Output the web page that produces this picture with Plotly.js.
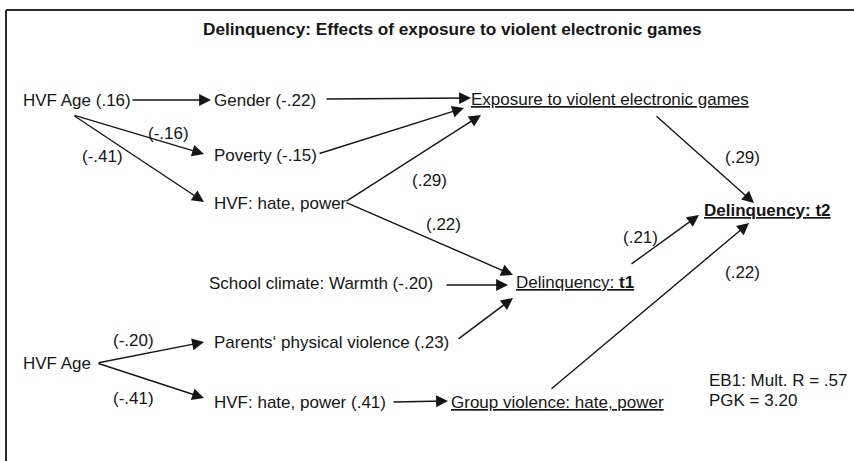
<!DOCTYPE html>
<html>
<head>
<meta charset="utf-8">
<script src="https://cdn.plot.ly/plotly-3.0.1.min.js"></script>
<style>html,body{margin:0;padding:0;background:#fff;}#chart{width:854px;height:461px;}</style>
</head>
<body>
<div id="chart"></div>
<script>
// ---- data ----
var chartTitle = "Delinquency: Effects of exposure to violent electronic games";
var nodeLabels = [
  "HVF Age (.16)",
  "Gender (-.22)",
  "Poverty (-.15)",
  "HVF: hate, power",
  "Exposure to violent electronic games",
  "School climate: Warmth (-.20)",
  "Delinquency: <b>t1</b>",
  "<b>Delinquency: t2</b>",
  "HVF Age",
  "Parents\u2018 physical violence (.23)",
  "HVF: hate, power (.41)",
  "Group violence: hate, power"
];
var nodeUnderlined = [false,false,false,false,true,false,true,true,false,false,false,true];
var edgeFrom  = [0,0,0,1,2,3,3,4,5,9,6,11,8,8,10];
var edgeTo    = [1,2,3,4,4,4,6,7,6,6,7,7,9,10,11];
var edgeCoefs = [null,-0.16,-0.41,null,null,0.29,0.22,0.29,null,null,0.21,0.22,-0.20,-0.41,null];
var statLines = ["EB1: Mult. R = .57", "PGK = 3.20"];

// ---- layout geometry (positions, not data) ----
var nodePos = [
  [21,100],[212,100],[212,155],[212,203],[469,99],[207,283],
  [514,282],[702,210],[21,363],[212,342],[212,402],[449,402]
];
var edgeTail = [[131,100],[73,115],[73,115],[325,99],[318,154],[345,202],[345,202],[655,115],[445,285],[457,340],[630,265],[550,390],[97,363],[97,363],[392,402]];
var edgeTip  = [[211,100],[204,154],[204,202],[471,98],[464,108],[481,115],[513,275],[754,203],[508,285],[513,298],[699,215],[749,223],[204,342],[204,398],[448,401]];
var coefPos  = [null,[168,133],[102,156],null,null,[429,180],[443,224],[742,157],null,null,[640,237],[742,272],[133,340],[133,398],null];
var statPos = [[707,380],[707,400]];

function fmtCoef(v){
  var s = Math.abs(v).toFixed(2).replace(/^0/, "");
  return "(" + (v < 0 ? "-" : "") + s + ")";
}

var FONT = "Liberation Sans, Arial, Helvetica, sans-serif";
var INK = "#161616";
var annotations = [];

nodeLabels.forEach(function(lbl, i){
  annotations.push({
    x: nodePos[i][0], y: nodePos[i][1], xref: "x", yref: "y",
    text: nodeUnderlined[i] ? "<u>" + lbl + "</u>" : lbl,
    showarrow: false, xanchor: "left", yanchor: "middle",
    font: {family: FONT, size: 17, color: INK}
  });
});

edgeFrom.forEach(function(f, k){
  annotations.push({
    x: edgeTip[k][0], y: edgeTip[k][1], xref: "x", yref: "y",
    ax: edgeTail[k][0], ay: edgeTail[k][1], axref: "x", ayref: "y",
    text: "", showarrow: true, arrowhead: 2, arrowsize: 1.7, arrowwidth: 1.4,
    arrowcolor: INK, standoff: 0, startstandoff: 0
  });
  if (edgeCoefs[k] !== null) {
    annotations.push({
      x: coefPos[k][0], y: coefPos[k][1], xref: "x", yref: "y",
      text: fmtCoef(edgeCoefs[k]), showarrow: false,
      xanchor: "center", yanchor: "middle",
      font: {family: FONT, size: 17, color: INK}
    });
  }
});

statLines.forEach(function(s, i){
  annotations.push({
    x: statPos[i][0], y: statPos[i][1], xref: "x", yref: "y",
    text: s, showarrow: false, xanchor: "left", yanchor: "middle",
    font: {family: FONT, size: 17, color: INK}
  });
});

annotations.push({
  x: 452, y: 29, xref: "x", yref: "y", text: "<b>" + chartTitle + "</b>",
  showarrow: false, xanchor: "center", yanchor: "middle",
  font: {family: FONT, size: 17.2, color: INK}
});

var layout = {
  width: 854, height: 461,
  margin: {l: 0, r: 0, t: 0, b: 0},
  paper_bgcolor: "#ffffff", plot_bgcolor: "#ffffff",
  showlegend: false,
  xaxis: {range: [0, 854], visible: false, fixedrange: true},
  yaxis: {range: [461, 0], visible: false, fixedrange: true},
  shapes: [
    {type: "line", xref: "x", yref: "y", x0: 6, y0: 10, x1: 854, y1: 10, line: {color: "#2a2a2a", width: 2}},
    {type: "line", xref: "x", yref: "y", x0: 6, y0: 10, x1: 6, y1: 461, line: {color: "#2a2a2a", width: 2}}
  ],
  annotations: annotations
};

Plotly.newPlot("chart", [{x: [], y: [], type: "scatter", mode: "markers", hoverinfo: "skip"}], layout, {staticPlot: true, displayModeBar: false});
</script>
</body>
</html>
